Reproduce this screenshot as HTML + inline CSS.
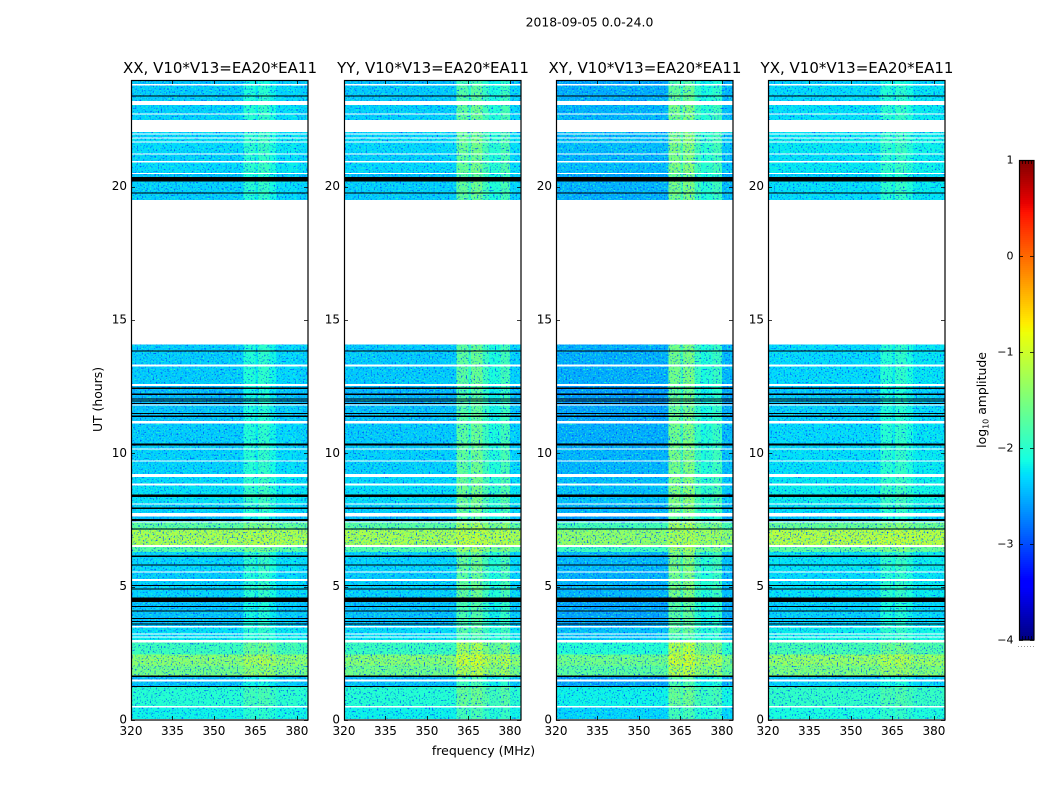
<!DOCTYPE html>
<html lang="en">
<head>
<meta charset="utf-8">
<title>2018-09-05 amplitude waterfall</title>
<style>
html,body{margin:0;padding:0;background:#fff;width:1050px;height:800px;overflow:hidden}
svg{display:block}
text{font-family:"DejaVu Sans","Liberation Sans",sans-serif;fill:#000}
</style>
</head>
<body>
<svg id="chart" xmlns="http://www.w3.org/2000/svg" width="1050" height="800" viewBox="0 0 1050 800">
<defs>
<filter id="speckle" filterUnits="userSpaceOnUse" x="125" y="75" width="830" height="650" color-interpolation-filters="sRGB">
<feTurbulence type="fractalNoise" baseFrequency="0.62" numOctaves="1" seed="4" result="n"/>
<feColorMatrix in="n" type="matrix" values="0 0 0 0 0  0 0 0 0 .32  0 0 0 0 1  5 0 0 0 -2.8" result="dark"/>
<feColorMatrix in="n" type="matrix" values="0 0 0 0 .15  0 0 0 0 1  0 0 0 0 .75  0 4 0 0 -2.12" result="light"/>
<feComposite in="dark" in2="SourceAlpha" operator="in" result="d"/>
<feComposite in="light" in2="SourceAlpha" operator="in" result="l"/>
<feMerge><feMergeNode in="SourceGraphic"/><feMergeNode in="l"/><feMergeNode in="d"/></feMerge>
</filter>
</defs>
<text x="589.5" y="26.5" text-anchor="middle" font-size="12.4">2018-09-05 0.0-24.0</text>
<text x="483.5" y="755" text-anchor="middle" font-size="12.5">frequency (MHz)</text>
<text transform="translate(102,399.5) rotate(-90)" text-anchor="middle" font-size="12.4">UT (hours)</text>
<text transform="translate(986,400) rotate(-90)" text-anchor="middle" font-size="12.4">log<tspan font-size="8" dy="2.5">10</tspan><tspan dy="-2.5"> amplitude</tspan></text>
<g id="panels"></g>
<g id="colorbar"></g>
</svg>
<script>
// ---- chart data (hours UT, MHz, log10 amplitude) ----
const panelTitles = ["XX, V10*V13=EA20*EA11","YY, V10*V13=EA20*EA11","XY, V10*V13=EA20*EA11","YX, V10*V13=EA20*EA11"];
const xTicks = [320,335,350,365,380];
const yTicks = [0,5,10,15,20];
const cbarTicks = [1,0,-1,-2,-3,-4];
const cbarLabels = ["1","0","\u22121","\u22122","\u22123","\u22124"];

const bandStart = [0.04,0.525,1.24,1.51,1.63,2.05,2.45,3.0,3.13,3.24,3.525,4.59,5.29,5.56,6.3,6.57,7.125,7.44,7.77,8.12,8.86,9.22,9.73,10.18,11.21,11.83,12.6,13.33,14.08,19.5,19.76,20.37,20.52,20.96,21.25,21.69,21.84,21.99,22.5,22.74,23.22,23.85];
const bandEnd   = [0.476,1.24,1.45,1.63,2.05,2.45,2.9,3.09,3.2,3.475,4.59,5.22,5.53,6.3,6.49,7.125,7.4,7.63,8.08,8.8,9.12,9.7,10.14,11.11,11.79,12.52,13.25,14.06,14.1,19.76,20.19,20.48,20.9,21.21,21.65,21.8,21.95,22.05,22.7,23.06,23.8,24.0];
const bandLevel = [-2.25,-2.1,-2.5,-2.55,-1.6,-1.45,-1.95,-2.3,-2.35,-2.35,-2.5,-2.42,-2.45,-2.4,-1.8,-1.25,-1.75,-2.55,-2.42,-2.35,-2.38,-2.42,-2.42,-2.45,-2.5,-2.55,-2.45,-2.45,-2.5,-2.45,-2.42,-2.5,-2.38,-2.42,-2.38,-2.35,-2.4,-2.4,-2.42,-2.42,-2.45,-2.5];
const bandRfi   = [0.5,0.6,0.8,0.9,0.55,0.55,0.9,0.6,0.6,0.8,0.9,1,1,1,0.6,0.15,0.6,1,1,1,1,1,1,1,1,1,1,1,1,1,1,1,1,1,1,1,1,1,1,1,0.9,0.8];

const flagTime  = [1.26,1.64,3.6,3.7,3.8,4.08,4.26,4.505,4.91,5.04,5.81,6.14,7.16,7.5,7.94,8.41,10.33,11.39,11.49,11.87,11.96,12.04,12.22,12.44,13.83,19.77,20.28,23.4];
const flagWidth = [0.04,0.04,0.04,0.04,0.04,0.04,0.04,0.17,0.04,0.04,0.04,0.04,0.04,0.07,0.04,0.08,0.09,0.04,0.04,0.04,0.04,0.04,0.05,0.04,0.04,0.04,0.18,0.05];

const zoneEdges = [320,360.6,365,366,370,372.5,374,376.5,380,384];
const zoneBoostXX = [0,0.32,0.14,0.4,0.22,0.06,0.05,0.08,0.02];
const zoneBoostYY = [0,0.72,0.4,0.8,0.5,0.28,0.3,0.55,0.04];
const zoneBoostXY = [0,1.0,0.65,1.05,0.62,0.42,0.48,0.62,0.05];
const zoneBoostYX = [0,0.28,0.1,0.34,0.2,0.06,0.05,0.06,0.04];
const panelBoost = [zoneBoostXX,zoneBoostYY,zoneBoostXY,zoneBoostYX];
const panelOffset = [0.07,0.06,-0.08,0.14];

// ---- layout & scales ----
const NS = "http://www.w3.org/2000/svg";
const axLeft = [131,344,556,768];
const axW = 177, axTop = 80, axBottom = 720;
const xMin = 320, xMax = 384, tMax = 24, vMin = -4, vMax = 1;
const xScale = (p, f) => axLeft[p] + (f - xMin) / (xMax - xMin) * axW;
const yScale = t => axBottom - t / tMax * (axBottom - axTop);

function lerp(pts, t){
  for(let i = 1; i < pts.length; i++){
    if(t <= pts[i][0]){
      const a = pts[i-1], b = pts[i];
      return a[1] + (b[1]-a[1]) * (t-a[0]) / (b[0]-a[0]);
    }
  }
  return pts[pts.length-1][1];
}
const jetR = [[0,0],[.35,0],[.66,1],[.89,1],[1,.5]];
const jetG = [[0,0],[.125,0],[.375,1],[.64,1],[.91,0],[1,0]];
const jetB = [[0,.5],[.11,1],[.34,1],[.65,0],[1,0]];
function jet(v){
  const t = Math.max(0, Math.min(1, (v - vMin) / (vMax - vMin)));
  return "rgb(" + [jetR,jetG,jetB].map(c => Math.round(lerp(c,t)*255)).join(",") + ")";
}
function mk(tag, attrs, parent){
  const el = document.createElementNS(NS, tag);
  for(const k in attrs) el.setAttribute(k, attrs[k]);
  parent.appendChild(el);
  return el;
}

const root = document.getElementById("panels");
panelTitles.forEach((title, p) => {
  const g = mk("g", {}, root);
  
  

  const heat = mk("g", {filter:"url(#speckle)","shape-rendering":"crispEdges"}, g);
  
  
  bandLevel.forEach((lvl, b) => {
    const y0 = yScale(bandEnd[b]), y1 = yScale(bandStart[b]);
    for(let z = 0; z < zoneEdges.length - 1; z++){
      const x0 = xScale(p, zoneEdges[z]), x1 = xScale(p, zoneEdges[z+1]);
      const v = lvl + panelOffset[p] + bandRfi[b] * panelBoost[p][z];
      const cell = mk("rect", {x:x0, y:y0, width:x1-x0, height:y1-y0, fill:jet(v)}, heat);
      
      
    }
  });

  flagTime.forEach((t, i) => {
    const h = flagWidth[i] / tMax * (axBottom - axTop);
    const line = mk("rect", {x:axLeft[p], y:yScale(t)-h/2, width:axW, height:h, fill:"#000","shape-rendering":"crispEdges"}, g);
    
    
  });

  const frame = mk("rect", {x:axLeft[p]+.5, y:axTop+.5, width:axW-.5, height:axBottom-axTop-.5, fill:"none", stroke:"#000","stroke-width":1.2}, g);
  
  

  xTicks.forEach(f => {
    const x = Math.round(xScale(p, f)) + .5;
    const tk = mk("path", {d:`M${x} ${axBottom}v-4M${x} ${axTop}v4`, stroke:"#000","stroke-width":.8, fill:"none"}, g);
    
    
    const lb = mk("text", {x:xScale(p,f), y:735, "text-anchor":"middle","font-size":12}, g);
    lb.textContent = f;
    
    
  });
  yTicks.forEach(t => {
    const y = Math.round(yScale(t)) + .5;
    const r = axLeft[p] + axW;
    const tk = mk("path", {d:`M${axLeft[p]} ${y}h4M${r} ${y}h-4`, stroke:"#000","stroke-width":.8, fill:"none"}, g);
    
    
    const lb = mk("text", {x:axLeft[p]-4, y:yScale(t)+3.5, "text-anchor":"end","font-size":12}, g);
    lb.textContent = t;
    
    
  });

  const tt = mk("text", {x:xScale(p,352)+.5, y:73, "text-anchor":"middle","font-size":15}, g);
  tt.textContent = title;
  
  
});

// ---- colour bar ----
const cb = document.getElementById("colorbar");
const cbX = 1019, cbW = 15, cbTop = 160, cbBottom = 640;
const cbY = v => cbBottom - (v - vMin) / (vMax - vMin) * (cbBottom - cbTop);
for(let py = cbTop; py < cbBottom; py += 2){
  const v = vMax - (py + 1 - cbTop) / (cbBottom - cbTop) * (vMax - vMin);
  const s = mk("rect", {x:cbX, y:py, width:cbW, height:2, fill:jet(v),"shape-rendering":"crispEdges"}, cb);
  
  
}
const cf = mk("rect", {x:cbX+.5, y:cbTop+.5, width:cbW-.5, height:cbBottom-cbTop-.5, fill:"none", stroke:"#000","stroke-width":1.2}, cb);


cbarTicks.forEach((v, i) => {
  const y = Math.round(cbY(v)) + .5;
  const tk = mk("path", {d:`M${cbX} ${y}h4M${cbX+cbW} ${y}h-4`, stroke:"#000","stroke-width":.8, fill:"none"}, cb);
  
  
  const lb = mk("text", {x:1013.5, y:cbY(v)+3.5, "text-anchor":"end","font-size":11}, cb);
  lb.textContent = cbarLabels[i];
  
  
});
const dots = mk("line", {x1:1018, x2:1035, y1:646.5, y2:646.5, stroke:"#999","stroke-width":1,"stroke-dasharray":"1 2"}, cb);


const tm = mk("path", {d:"M1022.5 160v4M1025.5 160v4M1028.5 160v4M1031.5 160v4M1022.5 640v-4M1025.5 640v-4M1028.5 640v-4M1031.5 640v-4", stroke:"#000","stroke-width":.7, fill:"none"}, cb);


</script>
</body>
</html>
